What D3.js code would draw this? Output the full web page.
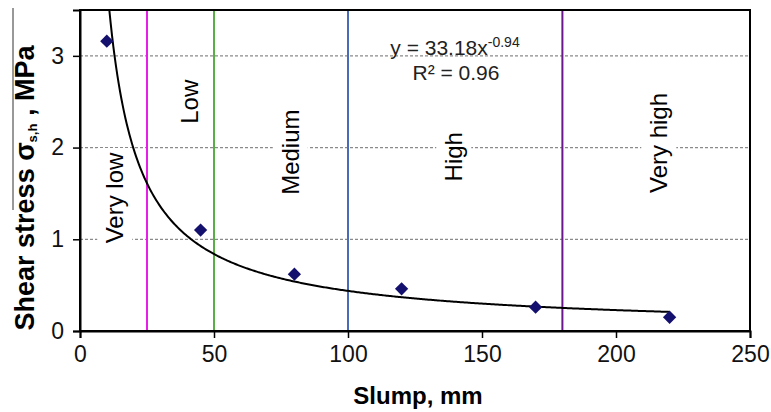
<!DOCTYPE html>
<html>
<head>
<meta charset="utf-8">
<script src="https://cdn.jsdelivr.net/npm/d3@7"></script>
<style>
  html, body { margin: 0; padding: 0; background: #fff; }
  svg { display: block; font-family: "Liberation Sans", Arial, sans-serif; }
</style>
</head>
<body>
<svg id="chart" width="771" height="412"></svg>
<script>
// Measured slump (mm) and shear stress (MPa)
const slump = [10, 45, 80, 120, 170, 220];
const shearStress = [3.16, 1.10, 0.62, 0.46, 0.26, 0.15];

// Power-law trend line y = a * x^b
const fitA = 33.18;
const fitB = -0.94;
const fitR2 = 0.96;

// Workability class boundaries and labels
const boundaries = [25, 50, 100, 180];
const boundaryColors = ["#e61ee6", "#5aae46", "#4a6cb8", "#6a168c"];
const classNames = ["Very low", "Low", "Medium", "High", "Very high"];
const classX = [13, 41, 78.5, 139.5, 216];
const classY = [1.45, 2.5, 1.95, 1.9, 2.05];

const xTicks = [0, 50, 100, 150, 200, 250];
const yTicks = [0, 1, 2, 3];

const W = 771, H = 412;
const margin = { top: 10, right: 21, bottom: 81, left: 80 };
const svg = d3.select("#chart");

const x = d3.scaleLinear().domain([0, 250]).range([margin.left, W - margin.right]);
const y = d3.scaleLinear().domain([0, 3.5]).range([H - margin.bottom, margin.top]);

// Dashed horizontal gridlines
svg.append("g").selectAll("line")
  .data(yTicks.filter(d => d > 0))
  .join("line")
  .attr("x1", x(0)).attr("x2", x(250))
  .attr("y1", d => y(d)).attr("y2", d => y(d))
  .attr("stroke", "#8a8a8a").attr("stroke-width", 1.2)
  .attr("stroke-dasharray", "3,2");

// Class labels on white boxes
const labels = svg.append("g");
classNames.forEach((name, i) => {
  const g = labels.append("g")
    .attr("transform", `translate(${x(classX[i])},${y(classY[i])}) rotate(-90)`);
  const t = g.append("text")
    .attr("text-anchor", "middle")
    .attr("dy", "0.35em")
    .attr("font-size", 24)
    .attr("fill", "#000")
    .text(name);
  const b = t.node().getBBox();
  g.insert("rect", "text")
    .attr("x", b.x - 4).attr("y", b.y - 4)
    .attr("width", b.width + 8).attr("height", b.height + 8)
    .attr("fill", "#fff");
});

// Class boundary lines
svg.append("g").selectAll("line")
  .data(boundaries)
  .join("line")
  .attr("x1", d => x(d)).attr("x2", d => x(d))
  .attr("y1", y(0)).attr("y2", y(3.5))
  .attr("stroke", (d, i) => boundaryColors[i])
  .attr("stroke-width", 2);

// Trend curve
const xStart = Math.pow(3.5 / fitA, 1 / fitB);
const curveX = d3.range(xStart, 220, 0.5).concat([220]);
const line = d3.line().x(d => x(d)).y(d => y(fitA * Math.pow(d, fitB)));
svg.append("path")
  .datum(curveX)
  .attr("d", line)
  .attr("fill", "none")
  .attr("stroke", "#000")
  .attr("stroke-width", 2);

// Data markers (diamonds)
svg.append("g").selectAll("path")
  .data(slump.map((s, i) => [s, shearStress[i]]))
  .join("path")
  .attr("d", d3.symbol().type(d3.symbolSquare).size(88))
  .attr("transform", d => `translate(${x(d[0])},${y(d[1])}) rotate(45)`)
  .attr("fill", "#14106e");

// Frame
svg.append("rect")
  .attr("x", x(0)).attr("y", y(3.5))
  .attr("width", x(250) - x(0)).attr("height", y(0) - y(3.5))
  .attr("fill", "none").attr("stroke", "#000").attr("stroke-width", 2);

// Axes
const xAxis = svg.append("g")
  .attr("transform", `translate(0,${y(0)})`)
  .call(d3.axisBottom(x).tickValues(xTicks).tickSize(7).tickPadding(8).tickFormat(d3.format("d")));
const yAxis = svg.append("g")
  .attr("transform", `translate(${x(0)},0)`)
  .call(d3.axisLeft(y).tickValues(yTicks).tickSize(7).tickPadding(9).tickFormat(d3.format("d")));
[xAxis, yAxis].forEach(a => {
  a.select(".domain").attr("stroke", "#000").attr("stroke-width", 2);
  a.selectAll(".tick line").attr("stroke", "#000").attr("stroke-width", 1.5);
  a.selectAll(".tick text")
    .attr("font-size", 23)
    .attr("font-family", "Liberation Sans, Arial, sans-serif")
    .attr("fill", "#111");
});

// Fit equation
const eq = svg.append("text")
  .attr("x", 455).attr("y", 55)
  .attr("text-anchor", "middle")
  .attr("font-size", 21)
  .attr("fill", "#222");
eq.append("tspan").text(`y = ${fitA}x`);
eq.append("tspan").attr("dy", -8).attr("font-size", 14).text(String(fitB));
svg.append("text")
  .attr("x", 456).attr("y", 80)
  .attr("text-anchor", "middle")
  .attr("font-size", 21)
  .attr("fill", "#222")
  .text(`R² = ${fitR2}`);

// Axis titles
svg.append("text")
  .attr("x", 418).attr("y", 404)
  .attr("text-anchor", "middle")
  .attr("font-size", 24).attr("font-weight", "bold")
  .text("Slump, mm");

const yt = svg.append("text")
  .attr("transform", `translate(34,188) rotate(-90)`)
  .attr("text-anchor", "middle")
  .attr("font-size", 27).attr("font-weight", "bold");
yt.append("tspan").text("Shear stress σ");
yt.append("tspan").attr("font-size", 13).attr("dy", 3).text("s,h");
yt.append("tspan").attr("dy", -3).text(" , MPa");

// Overline beside the title
svg.append("line")
  .attr("x1", 13).attr("x2", 13)
  .attr("y1", 8).attr("y2", 210)
  .attr("stroke", "#333").attr("stroke-width", 1);
</script>
</body>
</html>
